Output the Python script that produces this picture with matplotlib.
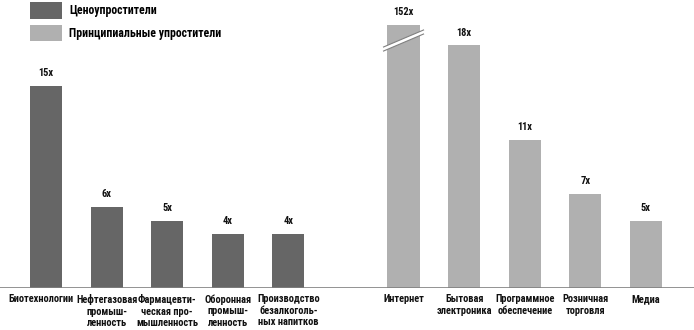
import matplotlib
matplotlib.use("Agg")
import matplotlib.pyplot as plt
from matplotlib.patches import Patch, Polygon
from matplotlib.transforms import ScaledTranslation

plt.rcParams['font.family'] = ['Roboto Condensed', 'DejaVu Sans']

# Data
price_categories = ["Биотехнологии", "Нефтегазовая\nпромыш-\nленность", "Фармацевти-\nческая про-\nмышленность",
                    "Оборонная\nпромыш-\nленность", "Производство\nбезалкоголь-\nных напитков"]
price_values = [15, 6, 5, 4, 4]
principle_categories = ["Интернет", "Бытовая\nэлектроника", "Программное\nобеспечение", "Розничная\nторговля", "Медиа"]
principle_values = [152, 18, 11, 7, 5]
legend_labels = ["Ценоупростители", "Принципиальные упростители"]

dark = "#666666"
light = "#b0b0b0"

W, H = 694, 330
fig = plt.figure(figsize=(W / 100, H / 100), dpi=100)
ax = fig.add_axes([0, (H - 288) / H, 1, (288 - 25) / H])

px_per_unit = 60.6
x_left = -46 / px_per_unit
x_right = (W - 46) / px_per_unit
ymax = 19.5

left_pos = [0, 1, 2, 3, 4]
right_pos = [5.9, 6.9, 7.9, 8.9, 9.9]
width = 0.53

ax.bar(left_pos, price_values, width=width, color=dark, zorder=2)
ax.bar(right_pos, principle_values, width=width, color=light, zorder=2)

ax.set_xlim(x_left, x_right)
ax.set_ylim(0, ymax)

lab_font = dict(fontsize=7.5, fontweight='bold', color="#111111")
for pos, v in list(zip(left_pos, price_values)) + list(zip(right_pos, principle_values)):
    ax.annotate(f"{v}x", (pos, min(v, ymax)), xytext=(0, 5.5), textcoords="offset points",
                ha="center", va="bottom", annotation_clip=False, **lab_font)

# break mark on the truncated bar
bx = right_pos[0]
hw = 0.33
y0, y1 = 17.57, 18.83
gap = 0.3
band = Polygon([(bx - hw, y0), (bx + hw, y1), (bx + hw, y1 + gap), (bx - hw, y0 + gap)],
               closed=True, facecolor="white", edgecolor="none", zorder=3)
ax.add_patch(band)
ax.plot([bx - hw, bx + hw], [y0, y1], color="#808080", lw=0.8, zorder=4)
ax.plot([bx - hw, bx + hw], [y0 + gap, y1 + gap], color="#808080", lw=0.8, zorder=4)

# baseline
ax.axhline(0, color="#808080", lw=1.2, zorder=3)

for s in ax.spines.values():
    s.set_visible(False)
ax.set_yticks([])
ax.set_xticks(left_pos + right_pos)
ax.set_xticklabels(price_categories + principle_categories, fontsize=7.5, fontweight='bold',
                   color="#111111", va="top", linespacing=1.18)
ax.tick_params(axis='x', length=0, pad=4.5)
# nudge the first label left so it clears its neighbour
first = ax.get_xticklabels()[0]
first.set_transform(first.get_transform() + ScaledTranslation(-5 / 100, 0, fig.dpi_scale_trans))

handles = [Patch(facecolor=dark, edgecolor='none'), Patch(facecolor=light, edgecolor='none')]
fig.legend(handles, legend_labels, loc="upper left", bbox_to_anchor=(30 / W, 1 - 2.5 / H),
           frameon=False, prop=dict(weight='bold', size=8.5), borderpad=0, borderaxespad=0,
           handlelength=2.7, handleheight=1.74, handletextpad=0.6, labelspacing=0.55)

fig.savefig("out.png", dpi=100)
